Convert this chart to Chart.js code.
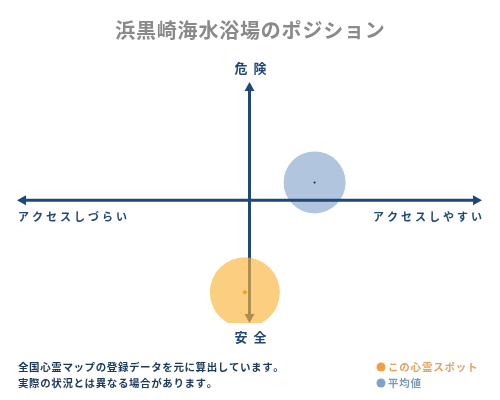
<!DOCTYPE html>
<html>
<head>
<meta charset="utf-8">
<script src="https://cdn.jsdelivr.net/npm/chart.js@4/dist/chart.umd.min.js"></script>
<style>
  body { margin: 0; background: #fff; }
  #wrap { width: 500px; height: 400px; position: relative; }
</style>
</head>
<body>
<div id="wrap"><canvas id="position"></canvas></div>
<script>
  const chartTitle = '浜黒崎海水浴場のポジション';
  const xLabels = ['アクセスしづらい', 'アクセスしやすい'];
  const yLabels = ['安全', '危険'];
  const seriesNames = ['この心霊スポット', '平均値'];
  const xValues = [-0.02, 0.28];
  const yValues = [-0.78, 0.15];
  const sizes = [35, 31];
  const notes = ['全国心霊マップの登録データを元に算出しています。', '実際の状況とは異なる場合があります。'];

  const fillColors = ['rgba(250,180,60,0.65)', 'rgba(100,140,190,0.5)'];
  const dotColors = ['#f0a020', '#222'];
  const legendColors = ['#f0a040', '#7ea3c8'];
  const legendText = ['#e3a35e', '#7a9ab8'];
  const navy = '#1f4777';
  const jp = '"Noto Sans CJK JP", sans-serif';

  // draws text one char at a time so we get letter spacing
  function spaced(ctx, text, x, y, gap, align) {
    const chars = Array.from(text);
    let w = 0;
    chars.forEach(c => { w += ctx.measureText(c).width; });
    w += gap * (chars.length - 1);
    let cx = x;
    if (align === 'center') cx = x - w / 2;
    if (align === 'right') cx = x - w;
    ctx.textAlign = 'left';
    chars.forEach(c => {
      ctx.fillText(c, cx, y);
      cx += ctx.measureText(c).width + gap;
    });
  }

  function arrow(ctx, x1, y1, x2, y2) {
    const a = Math.atan2(y2 - y1, x2 - x1);
    ctx.beginPath();
    ctx.moveTo(x1, y1);
    ctx.lineTo(x2 - 5 * Math.cos(a), y2 - 5 * Math.sin(a));
    ctx.stroke();
    ctx.beginPath();
    ctx.moveTo(x2, y2);
    ctx.lineTo(x2 - 9 * Math.cos(a) + 5 * Math.sin(a), y2 - 9 * Math.sin(a) - 5 * Math.cos(a));
    ctx.lineTo(x2 - 9 * Math.cos(a) - 5 * Math.sin(a), y2 - 9 * Math.sin(a) + 5 * Math.cos(a));
    ctx.closePath();
    ctx.fill();
  }

  const axesPlugin = {
    id: 'axes',
    afterDatasetDraw(chart, args) {
      if (args.index !== 1) return;
      const ctx = chart.ctx;
      const xs = chart.scales.x, ys = chart.scales.y;
      const x0 = xs.getPixelForValue(0), y0 = ys.getPixelForValue(0);
      ctx.save();
      ctx.strokeStyle = navy;
      ctx.fillStyle = navy;
      ctx.lineWidth = 3;
      arrow(ctx, x0, y0, xs.left, y0);
      arrow(ctx, x0, y0, xs.right, y0);
      arrow(ctx, x0, y0, x0, ys.top);
      arrow(ctx, x0, y0, x0, ys.bottom);
      ctx.restore();
    },
    afterDraw(chart) {
      const ctx = chart.ctx;
      const xs = chart.scales.x, ys = chart.scales.y;
      const x0 = xs.getPixelForValue(0), y0 = ys.getPixelForValue(0);
      ctx.save();
      ctx.textBaseline = 'middle';

      ctx.fillStyle = '#8a8a8a';
      ctx.font = 'bold 20px ' + jp;
      spaced(ctx, chartTitle, 250, 30, 0.8, 'center');

      ctx.fillStyle = navy;
      ctx.font = 'bold 13px ' + jp;
      spaced(ctx, yLabels[1], x0 + 1, ys.top - 14, 6, 'center');
      spaced(ctx, yLabels[0], x0 + 1, ys.bottom + 14, 6, 'center');
      ctx.font = 'bold 11px ' + jp;
      spaced(ctx, xLabels[0], xs.left + 1, y0 + 17, 3, 'left');
      spaced(ctx, xLabels[1], xs.right, y0 + 17, 3, 'right');

      ctx.fillStyle = '#1a3a5c';
      ctx.font = 'bold 10.5px ' + jp;
      notes.forEach((n, i) => spaced(ctx, n, 18, 367 + i * 16, 0.6, 'left'));

      seriesNames.forEach((name, i) => {
        const y = 367 + i * 16;
        ctx.fillStyle = legendColors[i];
        ctx.beginPath();
        ctx.arc(381, y, 4.5, 0, Math.PI * 2);
        ctx.fill();
        ctx.fillStyle = legendText[i];
        ctx.font = 'bold 10.5px ' + jp;
        spaced(ctx, name, 388, y, 0.8, 'left');
      });
      ctx.restore();
    }
  };

  const ctx = document.getElementById('position');

  new Chart(ctx, {
    type: 'bubble',
    data: {
      datasets: [{
        label: seriesNames[0],
        data: [{ x: xValues[0], y: yValues[0], r: sizes[0] }],
        backgroundColor: fillColors[0],
        borderWidth: 0,
        order: 1
      }, {
        label: seriesNames[1],
        data: [{ x: xValues[1], y: yValues[1], r: sizes[1] }],
        backgroundColor: fillColors[1],
        borderWidth: 0,
        order: 2
      }, {
        type: 'scatter',
        label: 'centers',
        data: xValues.map((x, i) => ({ x: x, y: yValues[i] })),
        backgroundColor: dotColors,
        pointRadius: [2, 1],
        borderWidth: 0,
        order: 0
      }]
    },
    options: {
      responsive: true,
      maintainAspectRatio: false,
      animation: false,
      layout: { autoPadding: false, padding: { left: 17, right: 18, top: 82, bottom: 77 } },
      scales: {
        x: { type: 'linear', min: -1, max: 1, display: false },
        y: { type: 'linear', min: -1.04, max: 1, display: false }
      },
      plugins: {
        legend: { display: false },
        tooltip: { enabled: false }
      }
    },
    plugins: [axesPlugin]
  });
</script>
</body>
</html>
